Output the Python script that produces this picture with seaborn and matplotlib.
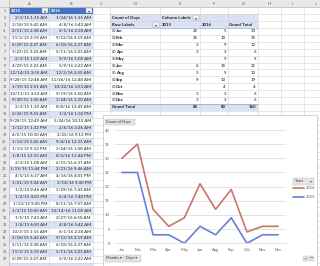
import numpy as np
import pandas as pd
import seaborn as sns
import matplotlib
matplotlib.use("Agg")
import matplotlib.pyplot as plt
from matplotlib import font_manager
from matplotlib.patches import Rectangle

# ---------------- data ----------------
months = ["Jan", "Feb", "Mar", "Apr", "May", "Jun", "Aug", "Sep", "Oct", "Nov", "Dec"]
count_2015 = [25, 25, 3, 3, None, 6, 3, 9, None, 3, 3]
count_2016 = [5, 10, 9, 3, 9, 15, 9, 10, 4, 3, 3]
grand_total = [30, 35, 12, 6, 9, 21, 12, 19, 4, 6, 6]
totals_row = ["80", "80", "160"]
years = ["2015", "2016"]
y_ticks = [0, 5, 10, 15, 20, 25, 30, 35, 40]
column_letters = ["A", "B", "C", "D", "E", "F", "G", "H", "I", "J"]

dates_2015 = [
    "2/3/15 1:15 AM", "2/18/15 5:42 AM", "2/11/15 2:38 AM", "11/2/15 3:19 AM",
    "6/29/15 2:27 AM", "3/23/15 3:23 AM", "2/3/15 1:09 AM", "4/29/15 2:22 AM",
    "12/14/15 3:55 AM", "9/28/15 12:48 AM", "1/19/15 2:51 AM", "10/11/15 3:53 AM",
    "9/30/15 1:50 AM", "2/3/15 1:10 AM", "2/26/15 9:53 AM", "9/28/15 12:49 AM",
    "1/12/15 1:32 PM", "4/5/15 10:10 AM", "1/12/15 3:26 AM", "1/13/15 9:12 PM",
    "1/8/15 12:15 AM", "2/3/15 1:08 AM", "1/19/15 11:44 PM", "4/5/15 6:37 AM",
    "1/21/15 9:34 AM", "1/2/15 9:46 AM", "1/2/15 4:01 PM", "1/13/15 9:00 PM",
    "1/3/15 10:50 AM", "1/5/15 7:43 AM", "1/8/15 6:50 AM", "10/3/15 1:15 AM",
    "2/18/15 5:42 AM", "2/11/15 2:38 AM", "11/2/15 3:19 AM", "6/29/15 2:27 AM",
]
dates_2016 = [
    "1/24/16 1:15 AM", "4/8/16 5:42 AM", "6/1/16 2:38 AM", "9/12/16 3:19 AM",
    "6/18/16 2:27 AM", "5/11/16 3:23 AM", "9/9/16 1:09 AM", "5/9/16 2:22 AM",
    "12/3/16 3:55 AM", "11/26/16 12:48 AM", "10/22/16 3:53 AM", "9/19/16 1:50 AM",
    "3/24/16 1:10 AM", "8/8/16 12:49 AM", "1/2/16 1:32 PM", "5/24/16 10:10 AM",
    "2/6/16 3:26 AM", "2/25/16 9:12 PM", "9/4/16 12:15 AM", "3/24/16 1:08 AM",
    "8/3/16 11:44 PM", "6/15/16 6:37 AM", "2/21/16 9:46 AM", "4/16/16 4:01 PM",
    "2/14/16 9:00 PM", "3/29/16 7:43 AM", "6/4/16 7:40 PM", "8/11/16 7:57 AM",
    "10/14/16 11:09 AM", "2/27/16 6:50 AM", "4/8/16 5:42 AM", "6/1/16 2:38 AM",
    "9/12/16 3:19 AM", "6/18/16 2:27 AM", "5/11/16 3:23 AM", "5/9/16 2:22 AM",
]

# ---------------- style ----------------
sns.set_style("white")
avail = {f.name for f in font_manager.fontManager.ttflist}
if "Liberation Sans Narrow" in avail:
    CF, FS = "Liberation Sans Narrow", 4.0
else:
    CF, FS = "Lato", 3.2
plt.rcParams["font.family"] = [CF, "DejaVu Sans"]

W, H = 320, 266
fig = plt.figure(figsize=(W / 100, H / 100), dpi=100)
fig.patch.set_facecolor("white")
sh = fig.add_axes([0, 0, 1, 1])
sh.set_xlim(0, W)
sh.set_ylim(H, 0)
sh.axis("off")

HDR = 7.3
RH = 6.9
col_edges = [0, 9, 49, 93, 110, 160, 200, 228, 258, 281, 304, 327]
GRID = "#D4D4D4"


def rtop(n):
    return HDR + (n - 1) * RH


def rc(n):
    return rtop(n) + RH / 2


def txt(x, y, s, ha="left", color="#1F1F1F", weight="normal", size=FS, z=3, fam=None):
    sh.text(x, y, s, ha=ha, va="center", fontsize=size, color=color,
            fontweight=weight, zorder=z, family=fam if fam else [CF, "DejaVu Sans"])


def box(x0, y0, x1, y1, fc, ec="none", lw=0.4, z=1):
    sh.add_patch(Rectangle((x0, y0), x1 - x0, y1 - y0, fc=fc, ec=ec, lw=lw, zorder=z))


def dropdown(xr, n, z=4):
    box(xr - 7, rtop(n) + 1, xr - 1, rtop(n) + RH - 1, "#F4F4F4", "#9A9A9A", 0.3, z)
    txt(xr - 4, rc(n), "▾", ha="center", size=3, color="#444", z=z + 1, fam="DejaVu Sans")


# table body fills (row 38 only peeks in at the bottom edge)
nrows = 38
for n in range(2, nrows + 1):
    if n % 2 == 0:
        box(col_edges[1], rtop(n), col_edges[3], rtop(n) + RH, "#D9E1F2")
box(col_edges[1], rtop(1), col_edges[3], rtop(2), "#4472C4")

# pivot fills
box(col_edges[4], rtop(2), col_edges[8], rtop(4), "#D9E1F2")
box(col_edges[4], rtop(15), col_edges[8], rtop(16), "#D9E1F2")

# gridlines
for xe in col_edges[1:]:
    sh.plot([xe, xe], [0, H], color=GRID, lw=0.4, zorder=2)
for n in range(1, nrows + 2):
    sh.plot([0, W], [rtop(n), rtop(n)], color=GRID, lw=0.4, zorder=2)
sh.plot([col_edges[4], col_edges[8]], [rtop(15), rtop(15)], color="#8EA9DB", lw=0.5, zorder=2.5)
sh.plot([col_edges[4], col_edges[8]], [rtop(4), rtop(4)], color="#8EA9DB", lw=0.4, zorder=2.5)

# headers
box(0, 0, W, HDR, "#E9E9E9", z=2.6)
box(0, 0, col_edges[1], H, "#E9E9E9", z=2.6)
sh.plot([0, W], [HDR, HDR], color="#BDBDBD", lw=0.5, zorder=2.7)
sh.plot([col_edges[1], col_edges[1]], [0, H], color="#BDBDBD", lw=0.5, zorder=2.7)
for i, L in enumerate(column_letters):
    txt((col_edges[i + 1] + col_edges[i + 2]) / 2, HDR / 2 + 0.3, L, ha="center", color="#555", size=FS * 0.9)
for n in range(1, len(dates_2015) + 2):
    txt(col_edges[1] / 2, rc(n), str(n), ha="center", color="#555", size=FS * 0.85)

# table header + data
txt(col_edges[1] + 2, rc(1), years[0], color="white", weight="bold")
txt(col_edges[2] + 2, rc(1), years[1], color="white", weight="bold")
dropdown(col_edges[2], 1)
dropdown(col_edges[3], 1)
for i, (a, b) in enumerate(zip(dates_2015, dates_2016)):
    n = i + 2
    txt(col_edges[2] - 2, rc(n), a, ha="right")
    txt(col_edges[3] - 2, rc(n), b, ha="right")

# pivot table
D0, E0, F0, G0 = col_edges[4], col_edges[5], col_edges[6], col_edges[7]
txt(D0 + 2, rc(2), "Count of Days", weight="bold")
txt(E0 + 2, rc(2), "Column Labels", weight="bold")
dropdown(F0, 2)
txt(D0 + 2, rc(3), "Row Labels", weight="bold")
dropdown(E0, 3)
txt(E0 + 2, rc(3), years[0], weight="bold")
txt(F0 + 2, rc(3), years[1], weight="bold")
txt(G0 + 1, rc(3), "Grand Total", weight="bold")
for i, m in enumerate(months):
    n = i + 4
    txt(D0 + 2, rc(n), "⊞", size=3.2, color="#666", fam="DejaVu Sans")
    txt(D0 + 6, rc(n), m, weight="bold")
    if count_2015[i] is not None:
        txt(F0 - 2, rc(n), str(count_2015[i]), ha="right")
    txt(G0 - 2, rc(n), str(count_2016[i]), ha="right")
    txt(col_edges[8] - 2, rc(n), str(grand_total[i]), ha="right")
txt(D0 + 2, rc(15), "Grand Total", weight="bold")
txt(F0 - 2, rc(15), totals_row[0], ha="right", weight="bold")
txt(G0 - 2, rc(15), totals_row[1], ha="right", weight="bold")
txt(col_edges[8] - 2, rc(15), totals_row[2], ha="right", weight="bold")

# ---------------- chart object ----------------
box(103, 115, 317, 272, "white", "#BFBFBF", 0.5, z=5)
BTN = "#E4E4E4"
box(105, 118.5, 135, 125, BTN, "#BDBDBD", 0.3, z=6)
txt(106, 121.8, "Count of Days", size=2.8, color="#333", z=7)
box(293, 178, 314, 185, BTN, "#BDBDBD", 0.3, z=6)
txt(294.5, 181.5, "Years", size=2.8, color="#333", z=7)
txt(311, 181.5, "▾", size=2.6, color="#444", ha="center", z=7, fam="DejaVu Sans")
box(105, 255, 124, 261.5, BTN, "#BDBDBD", 0.3, z=6)
txt(106, 258.3, "Months ▾", size=2.7, color="#333", z=7)
box(125, 255, 141, 261.5, BTN, "#BDBDBD", 0.3, z=6)
txt(126, 258.3, "Days ▾", size=2.7, color="#333", z=7)
box(303, 256, 308, 261, BTN, "#BDBDBD", 0.3, z=6)
box(309, 256, 314, 261, BTN, "#BDBDBD", 0.3, z=6)
txt(305.5, 258.5, "+", ha="center", size=3, color="#444", z=7, fam="DejaVu Sans")
txt(311.5, 258.5, "−", ha="center", size=3, color="#444", z=7, fam="DejaVu Sans")

px_left, px_right, px_top, px_bot = 114, 286, 130, 243.3
ax = fig.add_axes([px_left / W, 1 - px_bot / H, (px_right - px_left) / W, (px_bot - px_top) / H])
ax.set_zorder(10)
ax.patch.set_alpha(0)

df = pd.DataFrame({
    "Month": months,
    "y2015": [v if v is not None else 0 for v in count_2015],
    "y2016": count_2016,
})
df["pos"] = np.arange(len(months))
df["stack2015"] = df["y2015"]
df["stack2016"] = df["y2015"] + df["y2016"]

RED = "#C8756A"
BLUE = "#6A7FD6"
sns.lineplot(data=df, x="pos", y="stack2016", color=RED, lw=1.2, ax=ax, label=years[1])
sns.lineplot(data=df, x="pos", y="stack2015", color=BLUE, lw=1.2, ax=ax, label=years[0])

ax.set_xlim(-0.5, len(months) - 0.5)
ax.set_ylim(0, 40)
ax.set_yticks(y_ticks)
ax.set_xticks(df["pos"])
ax.set_xticklabels(months)
ax.set_xlabel("")
ax.set_ylabel("")
ax.grid(axis="y", color="#D9D9D9", lw=0.5)
ax.grid(axis="x", visible=False)
for s in ["top", "right", "left"]:
    ax.spines[s].set_visible(False)
ax.spines["bottom"].set_color("#D9D9D9")
ax.spines["bottom"].set_linewidth(0.5)
ax.tick_params(axis="both", length=0, labelsize=3.0, labelcolor="#595959")
ax.tick_params(axis="y", pad=3)
ax.tick_params(axis="x", pad=3.5)

ax.legend(loc="upper left", bbox_to_anchor=(293 / W, 1 - 186 / H), bbox_transform=fig.transFigure,
          frameon=False, fontsize=3.0, handlelength=2.6, handletextpad=0.5,
          labelspacing=1.2, borderpad=0, borderaxespad=0, labelcolor="#595959")

fig.savefig("out.png", dpi=100)
